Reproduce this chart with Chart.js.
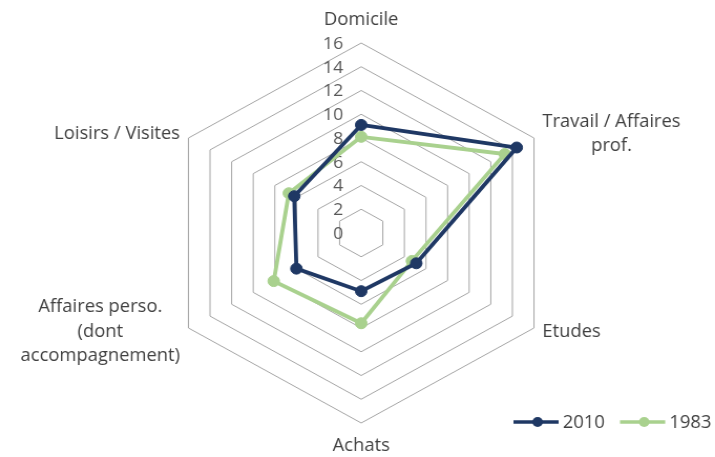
<!DOCTYPE html>
<html>
<head>
<meta charset="utf-8">
<script src="https://cdn.jsdelivr.net/npm/chart.js@4"></script>
<style>
  html, body { margin: 0; padding: 0; background: #fff; overflow: hidden; }
  #wrap { width: 715px; height: 457px; }
  /* le graphique d'origine est légèrement étiré en largeur */
  #radarChart { transform: scaleX(1.05); transform-origin: 0 0; }
</style>
</head>
<body>
<div id="wrap"><canvas id="radarChart" width="681" height="457"></canvas></div>
<script>
// données du graphique
const categories = [
    'Domicile',
    ['Travail / Affaires', 'prof.'],
    'Etudes',
    'Achats',
    ['Affaires perso.', '(dont', 'accompagnement)'],
    'Loisirs / Visites'
];
const values2010 = [9.1, 14.4, 5.1, 4.9, 6.0, 6.2];
const values1983 = [8.1, 13.3, 4.7, 7.6, 8.1, 6.7];
const tickValues = [0, 2, 4, 6, 8, 10, 12, 14, 16];
const seriesNames = ['2010', '1983'];
const seriesColors = ['#1f3864', '#a9d18e'];

const FONT = '"Open Sans", sans-serif';

// graduations à gauche de l'axe vertical
const tickLabelsPlugin = {
    id: 'tickLabels',
    beforeDatasetsDraw(chart) {
        const scale = chart.scales.r;
        const c = chart.ctx;
        c.save();
        c.font = '17px ' + FONT;
        c.fillStyle = '#595959';
        c.textAlign = 'right';
        c.textBaseline = 'middle';
        tickValues.forEach(v => {
            const y = scale.yCenter - scale.getDistanceFromCenterForValue(v);
            c.fillText(String(v), scale.xCenter - 17, y + 1);
        });
        c.restore();
    }
};

// libellés des axes, lignes centrées comme dans Excel
const axisLabelsPlugin = {
    id: 'axisLabels',
    afterDraw(chart) {
        const scale = chart.scales.r;
        const c = chart.ctx;
        const lineH = 24.5;
        c.save();
        c.font = '17.5px ' + FONT;
        c.fillStyle = '#404040';
        c.textAlign = 'center';
        c.textBaseline = 'middle';
        categories.forEach((label, i) => {
            const lines = Array.isArray(label) ? label : [label];
            const p = scale.getPointPosition(i, scale.drawingArea);
            const widest = Math.max(...lines.map(l => c.measureText(l).width));
            const blockH = lines.length * lineH;
            let cx, cy;
            if (Math.abs(p.x - scale.xCenter) < 1) {
                cx = p.x;
                cy = p.y < scale.yCenter ? p.y - 23 : p.y + 23;
            } else {
                cx = p.x > scale.xCenter ? p.x + 8 + widest / 2 : p.x - 8 - widest / 2;
                cy = p.y + (p.y < scale.yCenter ? -4 : 4);
            }
            lines.forEach((l, k) => {
                c.fillText(l, cx, cy - blockH / 2 + lineH * (k + 0.5));
            });
        });
        c.restore();
    }
};

// légende façon Excel (trait + marqueur)
const excelLegendPlugin = {
    id: 'excelLegend',
    afterDraw(chart) {
        const c = chart.ctx;
        c.save();
        c.font = '17.5px ' + FONT;
        c.textBaseline = 'middle';
        c.textAlign = 'left';
        let x = 489;
        const y = 422;
        chart.data.datasets.forEach(ds => {
            c.strokeStyle = ds.borderColor;
            c.lineWidth = 3.5;
            c.beginPath();
            c.moveTo(x, y);
            c.lineTo(x + 43, y);
            c.stroke();
            c.fillStyle = ds.borderColor;
            c.beginPath();
            c.arc(x + 23, y, 5, 0, Math.PI * 2);
            c.fill();
            c.fillStyle = '#404040';
            c.fillText(ds.label, x + 47, y + 1);
            x += 101.5;
        });
        c.restore();
    }
};

function makeDataset(name, values, color) {
    return {
        label: name,
        data: values,
        borderColor: color,
        backgroundColor: 'rgba(0,0,0,0)',
        pointBackgroundColor: color,
        pointBorderColor: color,
        borderWidth: 3.8,
        pointRadius: 5.5,
        pointBorderWidth: 1,
        fill: false,
        tension: 0
    };
}

const ctx = document.getElementById('radarChart');
new Chart(ctx, {
    type: 'radar',
    data: {
        labels: categories,
        datasets: [
            makeDataset(seriesNames[0], values2010, seriesColors[0]),
            makeDataset(seriesNames[1], values1983, seriesColors[1])
        ]
    },
    options: {
        responsive: false,
        animation: false,
        layout: {
            padding: { top: 43, bottom: 33, left: 154, right: 146 }
        },
        plugins: {
            legend: { display: false },
            tooltip: { enabled: false }
        },
        scales: {
            r: {
                min: 0,
                max: 16,
                beginAtZero: true,
                ticks: {
                    stepSize: 2,
                    display: false
                },
                grid: {
                    color: '#a5a5a5',
                    lineWidth: 1
                },
                angleLines: {
                    display: false
                },
                pointLabels: {
                    display: false
                }
            }
        }
    },
    plugins: [tickLabelsPlugin, axisLabelsPlugin, excelLegendPlugin]
});
</script>
</body>
</html>
